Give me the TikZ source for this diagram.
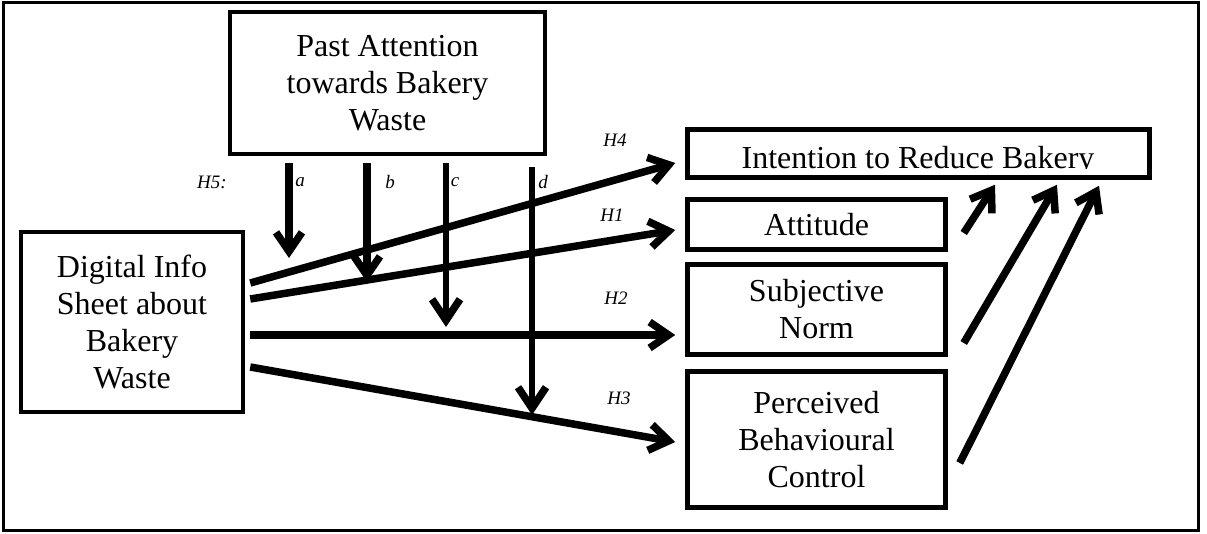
\documentclass[tikz,border=0pt]{standalone}
\usepackage{fontspec}
\setmainfont{Liberation Serif}
\usetikzlibrary{arrows.meta}
\begin{document}
\begin{tikzpicture}[x=1pt,y=-1pt,
 box/.style={draw,line width=4.5pt,inner sep=0pt,align=center,font=\fontsize{32}{37}\selectfont},
 arr/.style={line width=7.5pt,-{Straight Barb[length=19pt,width=26pt]}},
 thinarr/.style={line width=5.5pt,-{Straight Barb[length=21pt,width=28pt,line width=7.5pt]}},
 lab/.style={font=\fontsize{19}{20}\selectfont\itshape,inner sep=0pt}]
\useasboundingbox (0,0) rectangle (1207,533);
\draw[line width=3pt] (3,2) rectangle (1198,530);
% boxes
\node[box,minimum width=315pt,minimum height=142pt] (past) at (387.5,83) {Past Attention\\towards Bakery\\Waste};
\node[box,minimum width=222pt,minimum height=180pt] (dig) at (132,322) {Digital Info\\Sheet about\\Bakery\\Waste};
\node[box,minimum width=462pt,minimum height=48pt] (int) at (918.5,153.5) {};
\begin{scope}
\clip (690,130) rectangle (1148,168);
\node[font=\fontsize{32}{37}\selectfont,anchor=base,inner sep=0pt] (inttext) at (918,168) {Intention to Reduce Bakery};
\end{scope}
\node[box,minimum width=258pt,minimum height=50pt] (att) at (816.5,224.5) {Attitude};
\node[box,minimum width=258pt,minimum height=90pt] (sub) at (816.5,309.5) {Subjective\\Norm};
\node[box,minimum width=258pt,minimum height=136pt] (pbc) at (816.5,439.5) {Perceived\\Behavioural\\Control};
% labels
\node[lab] (h5) at (212,182) {H5:};
\node[lab] (la) at (300,182) {a};
\node[lab] (lb) at (390,182) {b};
\node[lab] (lc) at (455,182) {c};
\node[lab] (ld) at (543,182) {d};
\node[lab] (h4) at (615,140) {H4};
\node[lab] (h1) at (612,215) {H1};
\node[lab] (h2) at (616,298) {H2};
\node[lab] (h3) at (619,398) {H3};
% main arrows
\draw[arr] ([xshift=5pt,yshift=39pt]dig.east) -- ([xshift=-10pt,yshift=-9.5pt]int.west);
\draw[arr] ([xshift=5pt,yshift=23pt]dig.east) -- ([xshift=-10pt,yshift=-5.5pt]att.west);
\draw[arr] ([xshift=5pt,yshift=-13pt]dig.east) -- ([xshift=-10pt,yshift=-25.5pt]sub.west);
\draw[arr] ([xshift=5pt,yshift=-45pt]dig.east) -- ([xshift=-10pt,yshift=-2.5pt]pbc.west);
% moderator arrows
\coordinate (ta) at (289,258);
\coordinate (tb) at (367,282);
\coordinate (tc) at (446,327);
\coordinate (td) at (532,415);
\draw[arr] ([xshift=-98.5pt,yshift=-7pt]past.south) -- (ta);
\draw[arr] ([xshift=-20.5pt,yshift=-7pt]past.south) -- (tb);
\draw[thinarr] ([xshift=58.5pt,yshift=-7pt]past.south) -- (tc);
\draw[thinarr] ([xshift=144.5pt,yshift=-11pt]past.south) -- (td);
% arrows to intention
\draw[arr] ([xshift=16pt,yshift=-8.5pt]att.east) -- ([xshift=76.5pt,yshift=-5pt]int.south);
\draw[arr] ([xshift=16pt,yshift=-33.5pt]sub.east) -- ([xshift=138.5pt,yshift=-5pt]int.south);
\draw[arr] ([xshift=12pt,yshift=-23.5pt]pbc.east) -- ([xshift=180.5pt,yshift=-6pt]int.south);
\end{tikzpicture}
\end{document}
